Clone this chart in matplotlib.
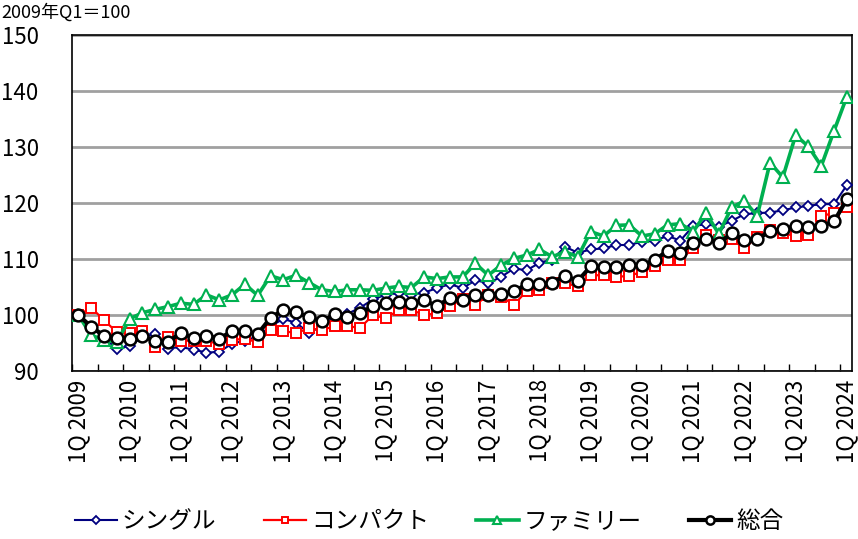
import matplotlib
matplotlib.use('Agg')
import matplotlib.pyplot as plt
import numpy as np

plt.rcParams['font.family'] = ['Noto Sans CJK JP', 'DejaVu Sans']

# quarterly index, 2009 Q1 = 100
quarters = ['%dQ %d' % (q, y) for y in range(2009, 2025) for q in range(1, 5)][:61]

single = [100, 97.8, 96.0, 93.9, 94.5, 96.0, 96.6, 94.0, 94.3, 93.8, 93.3, 93.4,
          94.9, 95.4, 96.2, 98.0, 99.3, 98.6, 96.8, 98.0, 99.1, 100.2, 101.3, 102.8,
          103.6, 103.9, 103.6, 104.0, 104.8, 105.5, 104.8, 106.2, 105.7, 106.8, 108.3, 108.0,
          109.3, 109.9, 112.2, 111.1, 111.7, 111.9, 112.5, 112.5, 113.1, 113.3, 114.1, 113.3,
          115.9, 116.2, 115.8, 116.8, 118.0, 118.2, 118.3, 118.7, 119.2, 119.5, 119.8, 119.8,
          123.2]
compact = [100, 101.3, 99.1, 96.9, 96.7, 97.1, 94.3, 96.0, 95.4, 95.4, 95.3, 94.9,
           95.5, 95.8, 95.1, 97.3, 97.1, 96.8, 97.6, 97.3, 98.0, 98.0, 97.7, 100.0,
           99.4, 100.9, 100.9, 100.0, 100.3, 101.6, 102.8, 101.8, 103.6, 103.3, 101.8, 104.3,
           104.5, 105.7, 105.7, 105.1, 107.1, 107.1, 106.8, 107.0, 107.7, 108.7, 109.8, 109.9,
           111.9, 114.3, 113.4, 113.5, 111.9, 114.0, 115.2, 114.6, 114.1, 114.3, 117.7, 118.2,
           119.2]
family = [100, 96.4, 95.5, 95.2, 99.3, 100.4, 101.0, 101.5, 102.1, 101.9, 103.6, 102.7,
          103.6, 105.5, 103.5, 107.0, 106.3, 107.1, 105.8, 104.5, 104.2, 104.5, 104.5, 104.4,
          104.8, 105.1, 104.9, 106.8, 106.5, 106.8, 106.8, 109.2, 107.1, 108.9, 110.1, 110.7,
          111.7, 110.4, 111.3, 110.4, 114.9, 114.1, 116.0, 116.1, 114.1, 114.5, 116.1, 116.3,
          114.9, 118.2, 114.5, 119.2, 120.4, 117.7, 127.2, 124.6, 132.1, 130.1, 126.6, 132.9,
          139.0]
total = [100, 97.9, 96.3, 95.9, 95.7, 96.2, 95.4, 95.2, 96.8, 95.9, 96.3, 95.8,
         97.1, 97.1, 96.6, 99.5, 100.9, 100.5, 99.6, 98.9, 100.1, 99.7, 100.3, 101.6,
         102.1, 102.4, 102.1, 102.6, 101.6, 103.0, 102.6, 103.6, 103.6, 103.7, 104.2, 105.5,
         105.5, 105.8, 107.0, 106.1, 108.7, 108.5, 108.5, 108.9, 108.9, 109.8, 111.5, 111.0,
         112.9, 113.6, 112.8, 114.6, 113.4, 113.5, 115.0, 115.3, 115.9, 115.8, 115.9, 116.7,
         120.7]

x = np.arange(len(quarters))

fig = plt.figure(figsize=(8.58, 5.39), dpi=100)
ax = fig.add_axes([0.0839, 0.3117, 0.9091, 0.6233])

ax.plot(x, single, color='#000080', lw=1.5, marker='D', ms=5.5, mfc='white',
        mec='#000080', mew=1.3, label='シングル', zorder=3)
ax.plot(x, compact, color='#ff0000', lw=1.6, marker='s', ms=6.5, mfc='white',
        mec='#ff0000', mew=1.4, label='コンパクト', zorder=4)
ax.plot(x, family, color='#00b050', lw=2.6, marker='^', ms=8, mfc='white',
        mec='#00b050', mew=1.5, label='ファミリー', zorder=5)
ax.plot(x, total, color='black', lw=3, marker='o', ms=8.5, mfc='white',
        mec='black', mew=1.8, label='総合', zorder=6)

ax.set_xlim(-0.3, 60.4)
ax.set_ylim(90, 150)
ax.set_yticks(range(90, 151, 10))
ax.yaxis.grid(True, color='#a0a0a0', lw=2)
ax.set_axisbelow(True)
ax.tick_params(axis='y', length=0, pad=24, labelsize=16)

# year labels on every 4th quarter, tick marks every 2 quarters at boundaries
ax.set_xticks(x[::4])
ax.set_xticklabels([quarters[i] for i in x[::4]], rotation=90, fontsize=16)
ax.set_xticks(np.arange(-0.5, 61, 2), minor=True)
ax.tick_params(axis='x', which='major', length=0, pad=6)
ax.tick_params(axis='x', which='minor', direction='in', length=5, width=1, color='black')

for s in ax.spines.values():
    s.set_color('black')
    s.set_linewidth(1.2)

fig.text(0.002, 0.977, '2009年Q1＝100', fontsize=13, va='center', ha='left')

fig.legend(loc='center', bbox_to_anchor=(0.5, 1 - 522 / 539), ncol=4, frameon=False,
           fontsize=17, handlelength=1.8, handletextpad=0.2, columnspacing=2.0,
           markerscale=0.7)

fig.savefig('out.png', dpi=100)
